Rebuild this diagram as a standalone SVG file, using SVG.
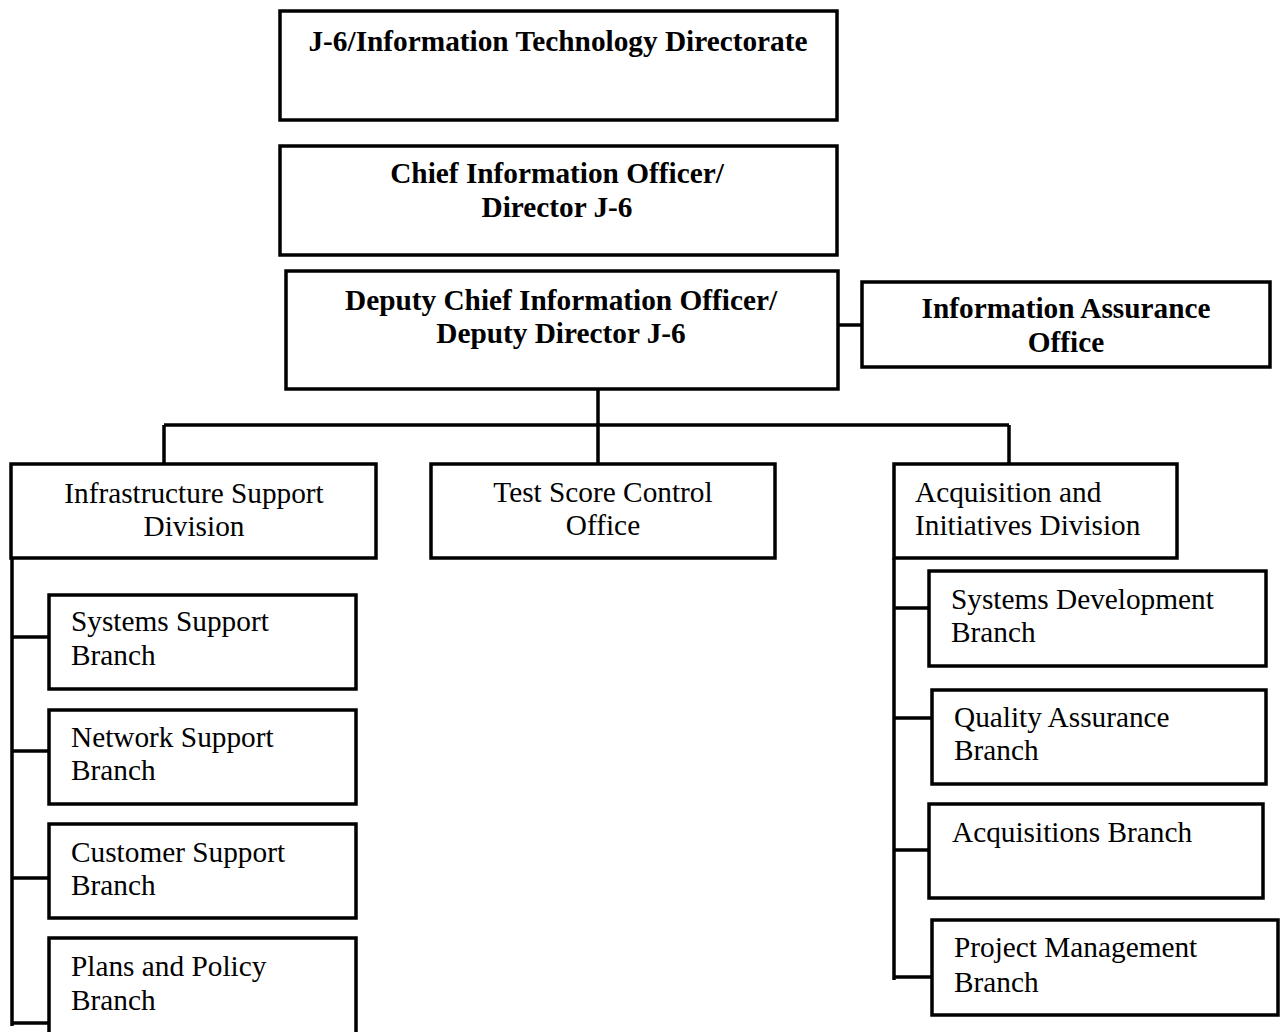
<svg xmlns="http://www.w3.org/2000/svg" width="1285" height="1032" viewBox="0 0 1285 1032">
<style>
.box{fill:#fff;stroke:#000;stroke-width:3.5}
.ln{stroke:#000;stroke-width:3.5;fill:none}
.b{font-family:"Liberation Serif","Times New Roman",serif;font-size:29.3px;font-weight:bold;fill:#000;text-anchor:middle}
.r{font-family:"Liberation Serif","Times New Roman",serif;font-size:29.3px;fill:#000}
.c{text-anchor:middle}
</style>
<rect width="1285" height="1032" fill="#fff"/>
<g id="connectors">
<path class="ln" d="M838 325H862"/>
<path class="ln" d="M598 390V425"/>
<path class="ln" d="M164 425H1009"/>
<path class="ln" d="M164 425V463M598 425V463M1009 425V463"/>
<path class="ln" d="M12 558V1026"/>
<path class="ln" d="M12 637H49M12 751H49M12 878H49M12 1023H49"/>
<path class="ln" d="M894 558V980"/>
<path class="ln" d="M893 608H929M894 718H932M893 850H929M894 977H932"/>
</g>
<g id="n1"><rect class="box" x="280" y="11" width="557" height="109"/><text class="b" x="558" y="51">J-6/Information Technology Directorate</text></g>
<g id="n2"><rect class="box" x="280" y="146" width="557" height="109"/><text class="b" x="557" y="183">Chief Information Officer/</text><text class="b" x="557" y="217">Director J-6</text></g>
<g id="n3"><rect class="box" x="286" y="271" width="552" height="118"/><text class="b" x="561" y="310">Deputy Chief Information Officer/</text><text class="b" x="561" y="343">Deputy Director J-6</text></g>
<g id="n4"><rect class="box" x="862" y="282" width="408" height="85"/><text class="b" x="1066" y="318">Information Assurance</text><text class="b" x="1066" y="352">Office</text></g>
<g id="n5"><rect class="box" x="11" y="464" width="365" height="94"/><text class="r c" x="194" y="503">Infrastructure Support</text><text class="r c" x="194" y="536">Division</text></g>
<g id="n6"><rect class="box" x="431" y="464" width="344" height="94"/><text class="r c" x="603" y="502">Test Score Control</text><text class="r c" x="603" y="535">Office</text></g>
<g id="n7"><rect class="box" x="894" y="464" width="283" height="94"/><text class="r" x="915" y="502">Acquisition and</text><text class="r" x="915" y="535">Initiatives Division</text></g>
<g id="n8"><rect class="box" x="49" y="595" width="307" height="94"/><text class="r" x="71" y="631">Systems Support</text><text class="r" x="71" y="665">Branch</text></g>
<g id="n9"><rect class="box" x="49" y="710" width="307" height="94"/><text class="r" x="71" y="747">Network Support</text><text class="r" x="71" y="780">Branch</text></g>
<g id="n10"><rect class="box" x="49" y="824" width="307" height="94"/><text class="r" x="71" y="862">Customer Support</text><text class="r" x="71" y="895">Branch</text></g>
<g id="n11"><rect class="box" x="49" y="938" width="307" height="100"/><text class="r" x="71" y="976">Plans and Policy</text><text class="r" x="71" y="1010">Branch</text></g>
<g id="n12"><rect class="box" x="929" y="571" width="337" height="95"/><text class="r" x="951" y="609">Systems Development</text><text class="r" x="951" y="642">Branch</text></g>
<g id="n13"><rect class="box" x="932" y="690" width="334" height="94"/><text class="r" x="954" y="727">Quality Assurance</text><text class="r" x="954" y="760">Branch</text></g>
<g id="n14"><rect class="box" x="929" y="804" width="334" height="94"/><text class="r" x="952" y="842">Acquisitions Branch</text></g>
<g id="n15"><rect class="box" x="932" y="920" width="346" height="95"/><text class="r" x="954" y="957">Project Management</text><text class="r" x="954" y="992">Branch</text></g>
</svg>
